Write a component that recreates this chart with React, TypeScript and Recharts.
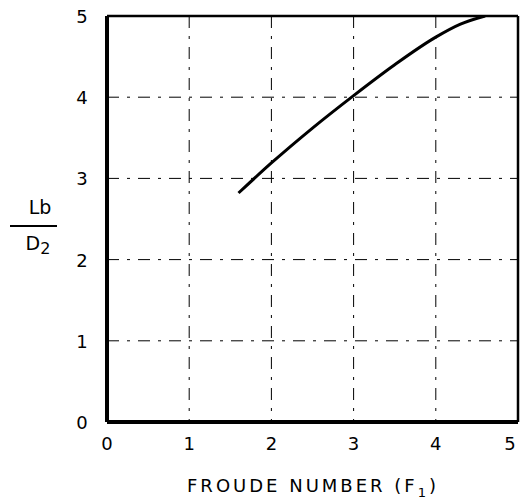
import React from "react";
import {
  LineChart,
  Line,
  XAxis,
  YAxis,
  CartesianGrid,
  ReferenceLine,
} from "recharts";

// Froude number F1 and the corresponding basin length ratio Lb / D2
const froude = [1.6, 2.0, 2.5, 3.0, 3.5, 4.0, 4.3, 4.6];
const lengthRatio = [2.82, 3.19, 3.62, 4.02, 4.4, 4.74, 4.9, 5.0];

const xTicks = [0, 1, 2, 3, 4, 5];
const yTicks = [0, 1, 2, 3, 4, 5];

const data = froude.map((f, i) => ({ f, r: lengthRatio[i] }));

const FONT = "'DejaVu Sans', sans-serif";

const XTick = (props: any) => {
  const { x, y, payload } = props;
  return (
    <text
      x={Math.min(x, 510)}
      y={y + 20}
      textAnchor="middle"
      fontFamily={FONT}
      fontSize={18}
      fill="#000"
    >
      {payload.value}
    </text>
  );
};

const YTick = (props: any) => {
  const { x, y, payload } = props;
  return (
    <text
      x={x - 17}
      y={y + 7}
      textAnchor="middle"
      fontFamily={FONT}
      fontSize={18}
      fill="#000"
    >
      {payload.value}
    </text>
  );
};

export default function App() {
  return (
    <div
      style={{
        position: "absolute",
        left: 0,
        top: 0,
        width: 520,
        height: 502,
        background: "#fff",
      }}
    >
      <LineChart
        width={520}
        height={502}
        data={data}
        margin={{ top: 16, right: 2, bottom: 50, left: 106 }}
      >
        <CartesianGrid
          stroke="#000"
          strokeWidth={1}
          strokeDasharray="12 8 3 8"
          horizontalValues={[1, 2, 3, 4]}
          verticalValues={[1, 2, 3, 4]}
        />
        <XAxis
          type="number"
          dataKey="f"
          domain={[0, 5]}
          ticks={xTicks}
          height={30}
          allowDataOverflow
          axisLine={{ stroke: "#000", strokeWidth: 4 }}
          tickLine={false}
          tick={<XTick />}
        />
        <YAxis
          type="number"
          domain={[0, 5]}
          ticks={yTicks}
          width={1}
          allowDataOverflow
          axisLine={{ stroke: "#000", strokeWidth: 4 }}
          tickLine={false}
          tick={<YTick />}
        />
        <ReferenceLine y={5} stroke="#000" strokeWidth={2.5} />
        <ReferenceLine x={5} stroke="#000" strokeWidth={2.5} />
        <Line
          type="monotone"
          dataKey="r"
          stroke="#000"
          strokeWidth={3}
          dot={false}
          isAnimationActive={false}
        />
        <text
          x={40}
          y={214}
          textAnchor="middle"
          fontFamily={FONT}
          fontSize={19}
          fill="#000"
        >
          Lb
        </text>
        <line x1={10} y1={226} x2={57} y2={226} stroke="#000" strokeWidth={2} />
        <text
          x={38}
          y={250}
          textAnchor="middle"
          fontFamily={FONT}
          fontSize={19}
          fill="#000"
        >
          D
          <tspan fontSize={16} dy={4}>2</tspan>
        </text>
        <text
          x={313}
          y={492}
          textAnchor="middle"
          fontFamily={FONT}
          fontSize={18}
          letterSpacing={3}
          fill="#000"
        >
          FROUDE NUMBER (F
          <tspan fontSize={13} dy={5}>1</tspan>
          <tspan dy={-5}>)</tspan>
        </text>
      </LineChart>
    </div>
  );
}
